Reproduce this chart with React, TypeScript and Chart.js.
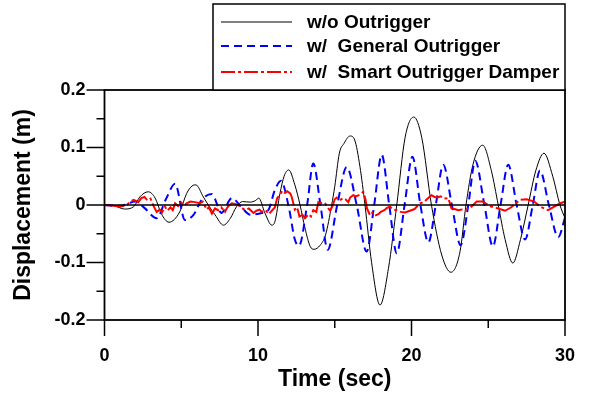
import React, { useEffect, useRef } from "react";
import { Chart, registerables } from "chart.js";

Chart.register(...registerables);

const FONT = "'Liberation Sans', Arial, Helvetica, sans-serif";

const xMajorTicks = [0, 10, 20, 30];
const xMinorTicks = [5, 15, 25];
const yMajorTicks = [-0.2, -0.1, 0, 0.1, 0.2];
const yMinorTicks = [-0.15, -0.05, 0.05, 0.15];

const seriesNames = ["w/o Outrigger", "w/  General Outrigger", "w/  Smart Outrigger Damper"];
const seriesColors = ["#000000", "#0000ff", "#ff0000"];

const blackTime = [0, 0.6, 1.3, 1.9, 2.3, 2.85, 3.3, 3.7, 4.2, 4.9,
  5.35, 5.7, 5.95, 6.44, 6.76, 7.2, 7.75, 8.2, 8.6, 9.0,
  9.5, 9.85, 10.05, 10.45, 10.9, 11.1, 11.43, 11.7, 12.0, 12.4,
  12.74, 13.06, 13.4, 13.65, 14.05, 14.4, 14.8, 15.0, 15.3, 15.6,
  16.0, 16.3, 16.64, 16.97, 17.4, 17.95, 18.5, 19.04, 19.58, 20.15,
  20.67, 21.3, 21.97, 22.57, 23.16, 23.55, 24.0, 24.64, 25.2, 25.65,
  26.1, 26.6, 27.1, 27.6, 28.1, 28.63, 29.2, 29.67, 30];
const blackDisp = [0, -0.001, -0.007, -0.003, 0.014, 0.023, 0.012, -0.015, -0.03, -0.012,
  0.02, 0.033, 0.035, 0.014, 0, -0.017, -0.035, -0.023, -0.003, 0.006,
  0.005, 0.008, 0.012, -0.014, -0.035, -0.029, 0.02, 0.05, 0.061, 0.035,
  0, -0.04, -0.072, -0.077, -0.07, -0.052, 0, 0.032, 0.09, 0.107,
  0.12, 0.113, 0.067, 0, -0.1, -0.174, -0.11, 0, 0.117, 0.153,
  0.117, 0, -0.087, -0.117, -0.081, 0, 0.07, 0.104, 0.06, 0,
  -0.06, -0.101, -0.06, 0, 0.06, 0.09, 0.05, 0, -0.023];

const blueTime = [0, 1.0, 1.5, 2.0, 2.6, 3.4, 4.0, 4.6, 5.24, 5.8,
  6.33, 7.0, 7.4, 7.6, 8.3, 8.9, 9.5, 10.24, 10.67, 11.1,
  11.5, 12.0, 12.4, 12.67, 13.2, 13.6, 14.07, 14.54, 15.16, 15.78,
  16.43, 17.08, 17.57, 18.06, 18.55, 19.04, 19.55, 20.06, 20.58, 21.1,
  21.58, 22.07, 22.63, 23.2, 23.7, 24.15, 24.75, 25.3, 25.8, 26.3,
  26.85, 27.4, 27.9, 28.37, 28.95, 29.56, 30];
const blueDisp = [0, -0.002, 0.002, 0.006, -0.005, -0.023, 0.01, 0.037, -0.026, -0.017,
  0.009, 0.019, -0.003, -0.014, 0.012, -0.003, -0.017, -0.014, -0.009, 0.026,
  0.042, -0.003, -0.06, -0.071, 0, 0.072, 0, -0.078, 0, 0.066,
  0, -0.081, 0, 0.087, 0, -0.084, 0, 0.084, 0, -0.065,
  0, 0.07, 0, -0.07, 0, 0.077, 0, -0.072, 0, 0.07,
  0, -0.06, 0, 0.06, 0, -0.056, -0.022];

const redTime = [0, 0.5, 1.0, 1.4, 1.7, 1.9, 2.2, 2.4, 2.6, 2.8,
  3.0, 3.2, 3.4, 3.6, 3.75, 3.94, 4.1, 4.3, 4.45, 4.6,
  4.8, 5.0, 5.2, 5.35, 5.6, 5.9, 6.2, 6.4, 6.66, 6.8,
  7.0, 7.2, 7.4, 7.6, 7.85, 7.96, 8.1, 8.3, 8.5, 8.7,
  8.9, 9.15, 9.4, 9.7, 9.9, 10.1, 10.24, 10.5, 10.7, 10.9,
  11.1, 11.25, 11.43, 11.6, 11.76, 11.9, 12.1, 12.2, 12.4, 12.55,
  12.7, 12.9, 13.06, 13.3, 13.45, 13.6, 13.8, 13.93, 14.1, 14.36,
  14.5, 14.7, 14.85, 15.0, 15.13, 15.3, 15.56, 15.7, 15.88, 16.0,
  16.2, 16.4, 16.64, 16.86, 17.0, 17.1, 17.3, 17.45, 17.6, 17.84,
  18.0, 18.23, 18.4, 18.6, 18.8, 19.04, 19.3, 19.58, 19.9, 20.2,
  20.55, 20.8, 21.0, 21.3, 21.5, 21.7, 21.9, 22.1, 22.4, 22.6,
  22.8, 23.05, 23.3, 23.5, 23.7, 23.9, 24.25, 24.64, 25.1, 25.65,
  26.1, 26.5, 27.07, 27.5, 28.0, 28.4, 28.9, 29.3, 29.7, 30];
const redDisp = [0, -0.001, -0.003, -0.001, 0.006, 0.009, 0.005, 0.012, 0.014, 0.008,
  0.011, -0.002, -0.012, -0.008, -0.013, -0.003, -0.01, -0.004, -0.009, 0.003,
  -0.002, 0.004, -0.001, 0.003, 0.006, 0.005, 0.003, 0.006, -0.008, -0.004,
  -0.015, -0.006, -0.009, -0.004, -0.012, -0.006, -0.001, 0.003, 0.002, 0,
  -0.004, -0.009, -0.006, -0.014, -0.01, -0.008, -0.012, -0.009, -0.016, -0.01,
  -0.004, 0.012, 0.018, 0.025, 0.021, 0.024, 0.02, 0.014, -0.008, -0.004,
  -0.02, -0.017, -0.023, -0.016, -0.02, -0.009, -0.012, 0.005, 0.003, 0.004,
  -0.003, -0.01, -0.002, 0.01, 0.013, 0.008, 0.012, 0.01, 0.005, 0.013,
  0.017, 0.015, 0.018, 0.023, 0.01, -0.006, -0.018, -0.013, -0.019, -0.016,
  -0.012, -0.009, -0.005, -0.003, -0.008, -0.009, -0.012, -0.013, -0.01, -0.007,
  0.003, 0.005, 0.01, 0.017, 0.014, 0.013, 0.015, 0.011, 0.012, -0.006,
  -0.007, -0.009, -0.008, -0.009, -0.006, -0.003, 0.006, 0.006, -0.002, -0.006,
  -0.01, -0.004, 0.009, 0.01, 0.006, -0.003, -0.009, -0.003, 0.003, 0.006];

const dashes: number[][] = [[], [8, 5], [20, 3, 3, 3]];
const legendDashes: number[][] = [[], [8, 5], [14, 3, 3, 3]];
const widths = [1, 2, 2];

const toPoints = (t: number[], d: number[]) => t.map((v, i) => ({ x: v, y: d[i] }));

const framePlugin = {
  id: "frameAndLegend",
  afterDatasetsDraw(chart: any) {
    const { ctx, chartArea: a, scales } = chart;
    const xs = scales.x;
    const ys = scales.y;
    const line = (x1: number, y1: number, x2: number, y2: number) => {
      ctx.beginPath();
      ctx.moveTo(x1, y1);
      ctx.lineTo(x2, y2);
      ctx.stroke();
    };
    ctx.save();
    ctx.strokeStyle = "#000";
    ctx.setLineDash([]);
    // zero line
    ctx.lineWidth = 1.5;
    const y0 = ys.getPixelForValue(0);
    line(a.left, y0, a.right, y0);
    // frame
    ctx.lineWidth = 1.8;
    ctx.strokeRect(a.left, a.top, a.right - a.left, a.bottom - a.top);
    // ticks
    ctx.lineWidth = 1.5;
    xMajorTicks.forEach((v) => {
      const px = xs.getPixelForValue(v);
      line(px, a.bottom, px, a.bottom + 16);
    });
    xMinorTicks.forEach((v) => {
      const px = xs.getPixelForValue(v);
      line(px, a.bottom, px, a.bottom + 8);
    });
    yMajorTicks.forEach((v) => {
      const py = ys.getPixelForValue(v);
      line(a.left - 18, py, a.left, py);
    });
    yMinorTicks.forEach((v) => {
      const py = ys.getPixelForValue(v);
      line(a.left - 8, py, a.left, py);
    });
    // legend
    const lx = 213;
    const ly = 4;
    ctx.lineWidth = 1.5;
    ctx.fillStyle = "#fff";
    ctx.fillRect(lx, ly, a.right - lx, a.top - ly);
    ctx.strokeRect(lx, ly, a.right - lx, a.top - ly);
    const rows = [22, 46, 72];
    ctx.font = `bold 19px ${FONT}`;
    ctx.textBaseline = "middle";
    ctx.textAlign = "left";
    seriesNames.forEach((name, i) => {
      ctx.strokeStyle = seriesColors[i];
      ctx.lineWidth = widths[i];
      ctx.setLineDash(legendDashes[i]);
      line(221, rows[i], 292, rows[i]);
      ctx.setLineDash([]);
      ctx.fillStyle = "#000";
      ctx.fillText(name, 307, rows[i] + 1);
    });
    ctx.restore();
  },
};

export default function App() {
  const ref = useRef<HTMLCanvasElement | null>(null);
  useEffect(() => {
    document.body.style.margin = "0";
    const canvas = ref.current;
    if (!canvas) return;
    Chart.defaults.font.family = FONT;
    Chart.defaults.color = "#000";
    const chart = new Chart(canvas, {
      type: "line",
      data: {
        datasets: [
          {
            label: seriesNames[2],
            data: toPoints(redTime, redDisp),
            borderColor: seriesColors[2],
            borderWidth: widths[2],
            borderDash: dashes[2],
            pointRadius: 0,
            tension: 0,
            order: 0,
          },
          {
            label: seriesNames[1],
            data: toPoints(blueTime, blueDisp),
            borderColor: seriesColors[1],
            borderWidth: widths[1],
            borderDash: dashes[1],
            pointRadius: 0,
            cubicInterpolationMode: "monotone",
            order: 1,
          },
          {
            label: seriesNames[0],
            data: toPoints(blackTime, blackDisp),
            borderColor: seriesColors[0],
            borderWidth: widths[0],
            pointRadius: 0,
            cubicInterpolationMode: "monotone",
            order: 2,
          },
        ],
      },
      options: {
        animation: false,
        responsive: false,
        devicePixelRatio: 1,
        layout: { padding: { left: 0, top: 90, right: 26, bottom: 0 } },
        plugins: { legend: { display: false }, tooltip: { enabled: false } },
        scales: {
          x: {
            type: "linear",
            min: 0,
            max: 30,
            grid: { display: false, drawTicks: false },
            border: { display: false },
            afterFit: (s: any) => {
              s.height = 75;
              s.paddingLeft = 0;
              s.paddingRight = 0;
            },
            ticks: {
              stepSize: 10,
              padding: 25,
              font: { size: 18, weight: "bold" },
              color: "#000",
            },
            title: {
              display: true,
              text: "Time (sec)",
              font: { size: 23, weight: "bold" },
              color: "#000",
              padding: { top: 0, bottom: 2 },
            },
          },
          y: {
            type: "linear",
            min: -0.2,
            max: 0.2,
            grid: { display: false, drawTicks: false },
            border: { display: false },
            afterFit: (s: any) => {
              s.width = 104.5;
              s.paddingTop = 0;
              s.paddingBottom = 0;
            },
            ticks: {
              stepSize: 0.1,
              padding: 19,
              font: { size: 18, weight: "bold" },
              color: "#000",
              callback: (v: any) => String(Number(Number(v).toFixed(1))),
            },
            title: {
              display: true,
              text: "Displacement (m)",
              font: { size: 23, weight: "bold" },
              color: "#000",
              padding: { top: 10, bottom: 0 },
            },
          },
        },
      },
      plugins: [framePlugin],
    } as any);
    return () => chart.destroy();
  }, []);
  return (
    <div style={{ position: "absolute", left: 0, top: 0, width: 591, height: 395, background: "#fff" }}>
      <canvas ref={ref} width={591} height={395} style={{ display: "block" }} />
    </div>
  );
}
